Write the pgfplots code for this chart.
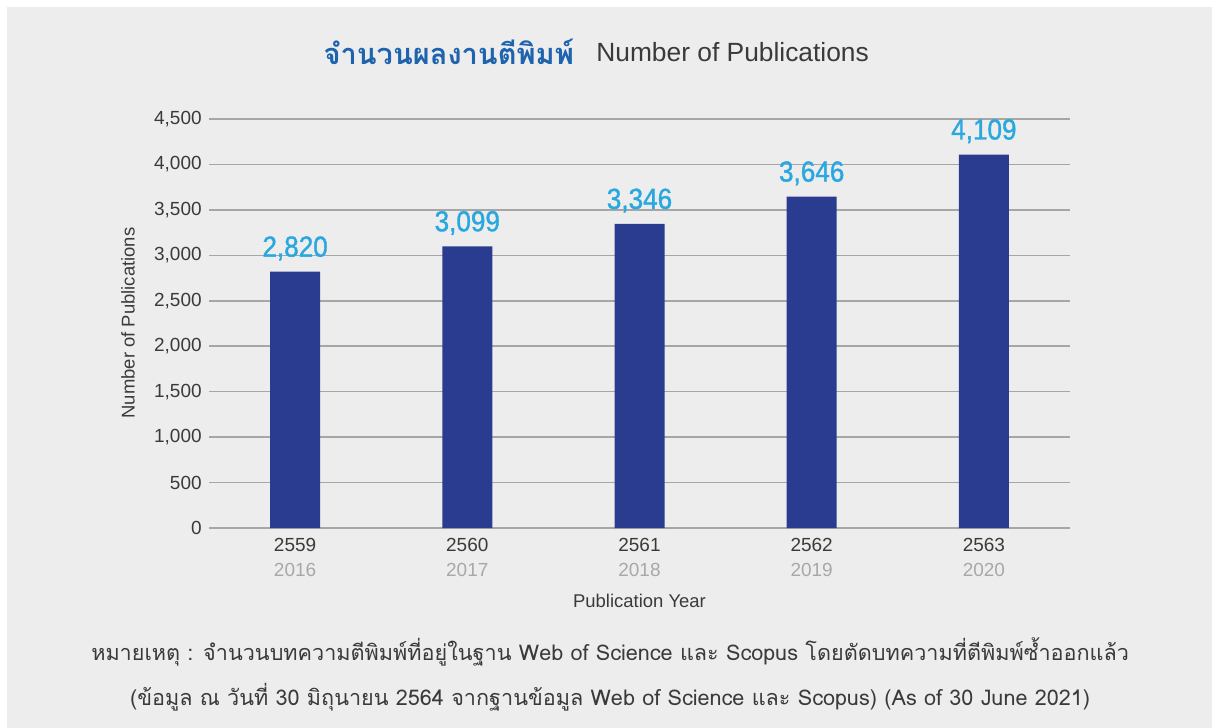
\documentclass[border=0pt]{standalone}
\usepackage{pgfplots}
\pgfplotsset{compat=1.18}
\usepackage{fontspec}
\setmainfont{Liberation Sans}
\newfontfamily\thaifont[Script=Thai]{Loma}
\newfontfamily\labelfont{Liberation Sans}[FakeStretch=0.9,FakeBold=1.2]

\definecolor{bgray}{HTML}{EDEDED}
\definecolor{barblue}{HTML}{2A3C90}
\definecolor{lblue}{HTML}{29A8E0}
\definecolor{tblue}{HTML}{1E63AE}
\definecolor{gridgray}{HTML}{A6A6A6}
\definecolor{txt}{HTML}{3A3A3A}
\definecolor{yrgray}{HTML}{A8A8A8}

\pgfplotstableread{
x  pubs
0  2820
1  3099
2  3346
3  3646
4  4109
}\pubtable

\begin{document}
\begin{tikzpicture}
\begin{scope}[x=0.02cm,y=-0.02cm]
  \fill[white] (0,0) rectangle (1212,727);
  \fill[bgray] (7,7) rectangle (1213,728);
  \node[anchor=east,text=tblue,font=\thaifont\bfseries\fontsize{16.5}{19}\selectfont] at (580,52) {จำนวนผลงานตีพิมพ์};
  \node[anchor=west,text=txt,font=\fontsize{15}{18}\selectfont] at (590,52) {Number of Publications};
  \node[text=txt,font=\thaifont\fontsize{12.3}{14}\selectfont] at (610,652) {หมายเหตุ : จำนวนบทความตีพิมพ์ที่อยู่ในฐาน Web of Science และ Scopus โดยตัดบทความที่ตีพิมพ์ซ้ำออกแล้ว};
  \node[text=txt,font=\thaifont\fontsize{12.3}{14}\selectfont] at (610,697) {(ข้อมูล ณ วันที่ 30 มิถุนายน 2564 จากฐานข้อมูล Web of Science และ Scopus) (As of 30 June 2021)};
  \node[rotate=90,text=txt,font=\fontsize{10.5}{12}\selectfont] at (128,323) {Number of Publications};
\end{scope}
\begin{axis}[
    at={(4.18cm,-10.56cm)}, anchor=south west,
    scale only axis,
    width=17.22cm, height=8.18cm,
    xmin=-0.5, xmax=4.5,
    ymin=0, ymax=4500,
    ytick={0,500,...,4500},
    xtick={0,1,2,3,4},
    xticklabels={{2559\\\textcolor{yrgray}{2016}},{2560\\\textcolor{yrgray}{2017}},{2561\\\textcolor{yrgray}{2018}},{2562\\\textcolor{yrgray}{2019}},{2563\\\textcolor{yrgray}{2020}}},
    axis x line*=bottom,
    axis y line*=left,
    x axis line style={draw=gridgray, line width=1.2pt},
    y axis line style={draw=none},
    major tick length=0pt,
    ymajorgrids=true,
    grid style={gridgray, line width=0.9pt},
    y tick label style={text=txt, font=\fontsize{10.8}{13}\selectfont, inner sep=0pt, anchor=east, xshift=-0.14cm},
    x tick label style={text=txt, font=\fontsize{10.8}{14.2}\selectfont, align=center, inner sep=0pt, yshift=-0.2cm},
    /pgf/number format/.cd, 1000 sep={,}, assume math mode=true, /pgfplots/.cd,
    scaled y ticks=false,
    xlabel={Publication Year},
    xlabel style={at={(axis description cs:0.5,0)}, anchor=center, yshift=-1.46cm, text=txt, font=\fontsize{10.5}{12}\selectfont},
    clip=false,
]
\addplot[ybar, bar width=1cm, fill=barblue, draw=none,
    nodes near coords={\pgfmathprintnumber[1000 sep={,}]{\pgfplotspointmeta}},
    nodes near coords style={text=lblue, font=\labelfont\fontsize{16.5}{18}\selectfont, anchor=south, inner sep=0pt, yshift=0.22cm},
] table[x=x, y=pubs] {\pubtable};
\end{axis}
\pgfresetboundingbox
\useasboundingbox (0,0) rectangle (24.24cm,-14.54cm);
\end{tikzpicture}
\end{document}
